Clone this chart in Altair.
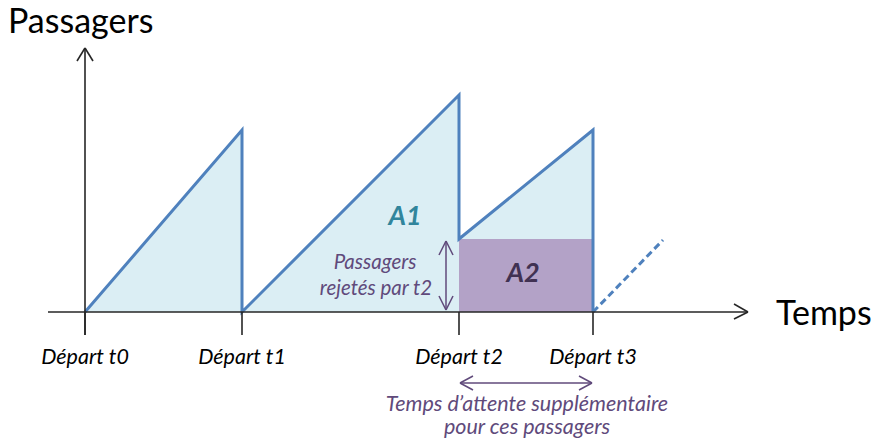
import altair as alt
import pandas as pd

# --- data (diagram units: time along x, passengers along y) ---
departs = [0, 157, 374, 508]
depart_labels = ["Départ t0", "Départ t1", "Départ t2", "Départ t3"]
peaks = [182, 217, 182]          # passengers accumulated before t1, t2, t3
rejected = 73                    # passengers left behind by t2
next_end = [578, 72]             # dashed continuation after t3

saw_t = [departs[0], departs[1], departs[1], departs[2], departs[2], departs[3], departs[3]]
saw_p = [0, peaks[0], 0, peaks[1], rejected, peaks[2], 0]

FONT = "Lato"
BLUE = "#4F81BD"
FILL = "#DBEEF4"
PURPLE_FILL = "#B3A2C7"
PURPLE = "#604A7B"
TEAL = "#31859C"
DARK_PURPLE = "#403152"
AXIS = "#262626"

W, H = 864, 430
xs = alt.Scale(domain=[-77, 787], nice=False, zero=False)
ys = alt.Scale(domain=[-126, 304], nice=False, zero=False)

def X(f="t"):
    return alt.X(f"{f}:Q", scale=xs, axis=None)

def Y(f="p"):
    return alt.Y(f"{f}:Q", scale=ys, axis=None)

saw = pd.DataFrame({"t": saw_t, "p": saw_p, "i": range(len(saw_t))})

# fill under each ramp of the sawtooth
fill_rows = []
starts = [(departs[0], 0), (departs[1], 0), (departs[2], rejected)]
for k in range(3):
    t0, p0 = starts[k]
    fill_rows.append({"piece": k, "t": t0, "p": p0, "b": 0})
    fill_rows.append({"piece": k, "t": departs[k + 1], "p": peaks[k], "b": 0})
area = alt.Chart(pd.DataFrame(fill_rows)).mark_area(color=FILL, opacity=1).encode(
    x=X(), y=Y(), y2="b:Q", detail="piece:N")

rect = alt.Chart(pd.DataFrame({"t": [departs[2]], "t2": [departs[3]], "p": [0], "p2": [rejected]})).mark_rect(
    color=PURPLE_FILL).encode(x=X(), x2="t2:Q", y=Y(), y2="p2:Q")

line = alt.Chart(saw).mark_line(color=BLUE, strokeWidth=3, strokeJoin="miter").encode(
    x=X(), y=Y(), order="i:Q")

dash = alt.Chart(pd.DataFrame({"t": [departs[3], next_end[0]], "p": [0, next_end[1]]})).mark_line(
    color=BLUE, strokeWidth=3, strokeDash=[7, 4]).encode(x=X(), y=Y())

# axes, ticks, arrowheads as segments
segs = []
def seg(name, t1, p1, t2, p2):
    segs.append({"g": name, "t": t1, "p": p1, "i": 0})
    segs.append({"g": name, "t": t2, "p": p2, "i": 1})

seg("yaxis", 0, -23, 0, 264)
seg("xaxis", -37, 0, 663, 0)
for k, d in enumerate(departs):
    seg(f"tick{k}", d, 0, d, -23)
seg("yh1", -8, 251, 0, 264)
seg("yh2", 8, 251, 0, 264)
seg("xh1", 649, 8, 663, 0)
seg("xh2", 649, -7, 663, 0)
axes = alt.Chart(pd.DataFrame(segs)).mark_line(color=AXIS, strokeWidth=1.6).encode(
    x=X(), y=Y(), detail="g:N", order="i:Q")

# purple double arrows
psegs = []
def pseg(name, t1, p1, t2, p2):
    psegs.append({"g": name, "t": t1, "p": p1, "i": 0})
    psegs.append({"g": name, "t": t2, "p": p2, "i": 1})

va = 361
pseg("v", va, 2, va, 71)
pseg("vh1", va - 7, 57, va, 71)
pseg("vh2", va + 7, 57, va, 71)
pseg("vh3", va - 7, 16, va, 2)
pseg("vh4", va + 7, 16, va, 2)
hy = -71
pseg("h", departs[2] + 1, hy, departs[3] - 1, hy)
pseg("hh1", departs[2] + 14, hy + 7, departs[2] + 1, hy)
pseg("hh2", departs[2] + 14, hy - 7, departs[2] + 1, hy)
pseg("hh3", departs[3] - 14, hy + 7, departs[3] - 1, hy)
pseg("hh4", departs[3] - 14, hy - 7, departs[3] - 1, hy)
arrows = alt.Chart(pd.DataFrame(psegs)).mark_line(color=PURPLE, strokeWidth=1.5).encode(
    x=X(), y=Y(), detail="g:N", order="i:Q")

def txt(df, **kw):
    return alt.Chart(df).mark_text(font=FONT, **kw).encode(x=X(), y=Y(), text="s:N")

titles_l = txt(pd.DataFrame({"t": [-77], "p": [279], "s": ["Passagers"]}),
               fontSize=34, align="left", baseline="alphabetic", color="#000000")
titles_r = txt(pd.DataFrame({"t": [691], "p": [-13], "s": ["Temps"]}),
               fontSize=34, align="left", baseline="alphabetic", color="#000000")
deps = txt(pd.DataFrame({"t": departs, "p": [-52] * 4, "s": depart_labels}),
           fontSize=21.5, fontStyle="italic", align="center", baseline="alphabetic", color="#000000")
a1 = txt(pd.DataFrame({"t": [320], "p": [87], "s": ["A1"]}),
         fontSize=27, fontStyle="italic", fontWeight="bold", align="center", baseline="alphabetic", color=TEAL)
a2 = txt(pd.DataFrame({"t": [438], "p": [30], "s": ["A2"]}),
         fontSize=27, fontStyle="italic", fontWeight="bold", align="center", baseline="alphabetic", color=DARK_PURPLE)
rej = txt(pd.DataFrame({"t": [290, 291], "p": [43, 17], "s": ["Passagers", "rejetés par t2"]}),
          fontSize=20.5, fontStyle="italic", align="center", baseline="alphabetic", color=PURPLE)
wait = txt(pd.DataFrame({"t": [442, 442], "p": [-99, -122],
                         "s": ["Temps d’attente supplémentaire", "pour ces passagers"]}),
           fontSize=21.5, fontStyle="italic", align="center", baseline="alphabetic", color=PURPLE)

chart = alt.layer(area, rect, line, dash, axes, arrows, titles_l, titles_r, deps, a1, a2, rej, wait).properties(
    width=W, height=H, padding=0, autosize=alt.AutoSizeParams(type="none")
).configure_view(stroke=None)

chart.save("out.html", embed_options={"renderer": "svg", "actions": False})
